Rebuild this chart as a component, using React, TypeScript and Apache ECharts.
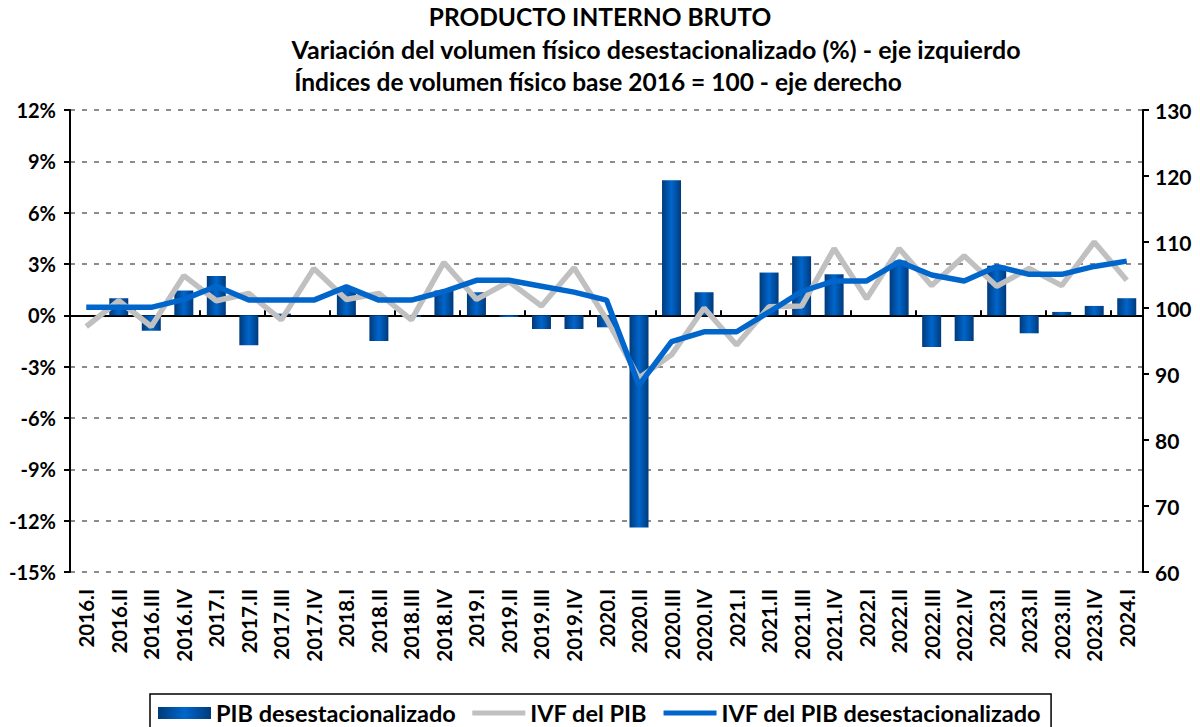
import React, { useEffect, useRef } from "react";
import * as echarts from "echarts";

const categories = [
  "2016.I","2016.II","2016.III","2016.IV",
  "2017.I","2017.II","2017.III","2017.IV",
  "2018.I","2018.II","2018.III","2018.IV",
  "2019.I","2019.II","2019.III","2019.IV",
  "2020.I","2020.II","2020.III","2020.IV",
  "2021.I","2021.II","2021.III","2021.IV",
  "2022.I","2022.II","2022.III","2022.IV",
  "2023.I","2023.II","2023.III","2023.IV",
  "2024.I",
];

// Variación % desestacionalizada (eje izquierdo)
const pibDesest = [
  0.0, 1.0, -0.9, 1.45,
  2.3, -1.75, 0.1, 0.0,
  1.6, -1.5, -0.1, 1.45,
  1.35, -0.1, -0.8, -0.8,
  -0.7, -12.4, 7.9, 1.35,
  0.0, 2.5, 3.45, 2.4,
  0.0, 3.2, -1.85, -1.5,
  2.9, -1.05, 0.2, 0.55,
  1.0,
];

// Índice IVF del PIB (eje derecho)
const ivfPib = [
  97.2, 101.1, 97.2, 104.9,
  101.1, 102.2, 98.2, 106.0,
  101.3, 102.2, 98.2, 106.9,
  101.3, 104.0, 100.3, 106.1,
  98.3, 89.4, 92.9, 100.0,
  94.4, 100.2, 100.3, 109.0,
  101.4, 109.0, 103.4, 107.9,
  103.3, 106.0, 103.4, 110.0,
  104.2,
];

// Índice IVF del PIB desestacionalizado (eje derecho)
const ivfPibDesest = [
  100.1, 100.1, 100.1, 101.3,
  103.3, 101.2, 101.2, 101.2,
  103.2, 101.2, 101.2, 102.5,
  104.2, 104.2, 103.3, 102.4,
  101.2, 88.3, 94.9, 96.4,
  96.4, 99.4, 102.5, 104.1,
  104.1, 107.0, 105.0, 104.1,
  106.3, 105.1, 105.1, 106.3,
  107.1,
];

const leftTicks = { min: -15, max: 12, interval: 3 };
const rightTicks = { min: 60, max: 130, interval: 10 };

const titleText = "PRODUCTO INTERNO BRUTO";
const subtitle1 = "Variación del volumen físico desestacionalizado (%) - eje izquierdo";
const subtitle2 = "Índices de volumen físico base 2016 = 100 - eje derecho";

const FONT = "Lato";

export default function App() {
  const ref = useRef<HTMLDivElement>(null);

  useEffect(() => {
    if (!ref.current) return;
    const chart = echarts.init(ref.current, null, { renderer: "svg" });

    const barGradient = new echarts.graphic.LinearGradient(0, 0, 1, 0, [
      { offset: 0, color: "#003a7a" },
      { offset: 0.5, color: "#0066cc" },
      { offset: 1, color: "#003a7a" },
    ]);

    const labelStyle = {
      color: "#000",
      fontFamily: FONT,
      fontWeight: "bold" as const,
      fontSize: 19,
    };

    const hiddenSymbol = { color: "rgba(0,0,0,0)", borderWidth: 0, opacity: 0 };

    chart.setOption({
      animation: false,
      backgroundColor: "#fff",
      textStyle: { fontFamily: FONT },
      grid: { left: 70, right: 57, top: 110, bottom: 155, containLabel: false },
      graphic: [
        {
          type: "text",
          x: 600,
          y: 4,
          style: {
            text: titleText,
            fontFamily: FONT,
            fontWeight: "bold",
            fontSize: 24.5,
            fill: "#000",
            align: "center",
          },
        },
        {
          type: "text",
          x: 656,
          y: 36,
          style: {
            text: subtitle1,
            fontFamily: FONT,
            fontWeight: "bold",
            fontSize: 25,
            fill: "#000",
            align: "center",
          },
        },
        {
          type: "text",
          x: 598,
          y: 69,
          style: {
            text: subtitle2,
            fontFamily: FONT,
            fontWeight: "bold",
            fontSize: 24.5,
            fill: "#000",
            align: "center",
          },
        },
      ],
      legend: {
        left: 150,
        top: 694,
        width: 900,
        padding: [7, 10, 30, 8],
        borderColor: "#000",
        borderWidth: 1.5,
        itemGap: 14,
        itemWidth: 53,
        itemHeight: 12,
        textStyle: {
          fontFamily: FONT,
          fontWeight: "bold",
          fontSize: 23.5,
          color: "#000",
        },
        data: [
          { name: "PIB desestacionalizado", icon: "rect" },
          {
            name: "IVF del PIB",
            itemStyle: hiddenSymbol,
            lineStyle: { width: 5, color: "#c0c0c0" },
          },
          {
            name: "IVF del PIB desestacionalizado",
            itemStyle: hiddenSymbol,
            lineStyle: { width: 5, color: "#0066cc" },
          },
        ],
      },
      xAxis: [
        {
          type: "category",
          data: categories,
          position: "bottom",
          axisLine: { show: false, onZero: false },
          axisTick: { show: false },
          axisLabel: {
            ...labelStyle,
            fontSize: 20.5,
            rotate: 90,
            margin: 17,
            interval: 0,
          },
          splitLine: { show: false },
        },
        {
          type: "category",
          data: categories,
          position: "bottom",
          axisLine: {
            show: true,
            onZero: true,
            onZeroAxisIndex: 0,
            lineStyle: { color: "#000", width: 2 },
          },
          axisTick: {
            show: true,
            inside: true,
            length: 5,
            lineStyle: { color: "#000", width: 2 },
          },
          axisLabel: { show: false },
          splitLine: { show: false },
        },
      ],
      yAxis: [
        {
          type: "value",
          min: leftTicks.min,
          max: leftTicks.max,
          interval: leftTicks.interval,
          position: "left",
          axisLine: { show: true, lineStyle: { color: "#000", width: 2 } },
          axisTick: { show: true, length: 6, lineStyle: { color: "#000", width: 2 } },
          axisLabel: {
            ...labelStyle,
            fontSize: 20,
            margin: 14,
            formatter: (v: number) => `${v}%`,
          },
          splitLine: {
            show: true,
            lineStyle: { color: "#8c8c8c", type: [5, 7], width: 2 },
          },
        },
        {
          type: "value",
          min: rightTicks.min,
          max: rightTicks.max,
          interval: rightTicks.interval,
          position: "right",
          axisLine: { show: true, lineStyle: { color: "#000", width: 2 } },
          axisTick: { show: true, length: 6, lineStyle: { color: "#000", width: 2 } },
          axisLabel: { ...labelStyle, fontSize: 21, margin: 12 },
          splitLine: { show: false },
        },
      ],
      series: [
        {
          name: "PIB desestacionalizado",
          type: "bar",
          xAxisIndex: 0,
          yAxisIndex: 0,
          data: pibDesest,
          barWidth: 19,
          itemStyle: { color: barGradient },
          z: 2,
        },
        {
          name: "IVF del PIB",
          type: "line",
          xAxisIndex: 0,
          yAxisIndex: 1,
          data: ivfPib,
          symbol: "none",
          showSymbol: false,
          itemStyle: { color: "#c0c0c0" },
          lineStyle: { color: "#c0c0c0", width: 5.5 },
          z: 3,
        },
        {
          name: "IVF del PIB desestacionalizado",
          type: "line",
          xAxisIndex: 0,
          yAxisIndex: 1,
          data: ivfPibDesest,
          symbol: "none",
          showSymbol: false,
          itemStyle: { color: "#0066cc" },
          lineStyle: { color: "#0066cc", width: 5.5 },
          z: 4,
        },
      ],
    });

    return () => chart.dispose();
  }, []);

  return <div ref={ref} style={{ width: 1200, height: 727, position: "absolute", left: 0, top: 0 }} />;
}
